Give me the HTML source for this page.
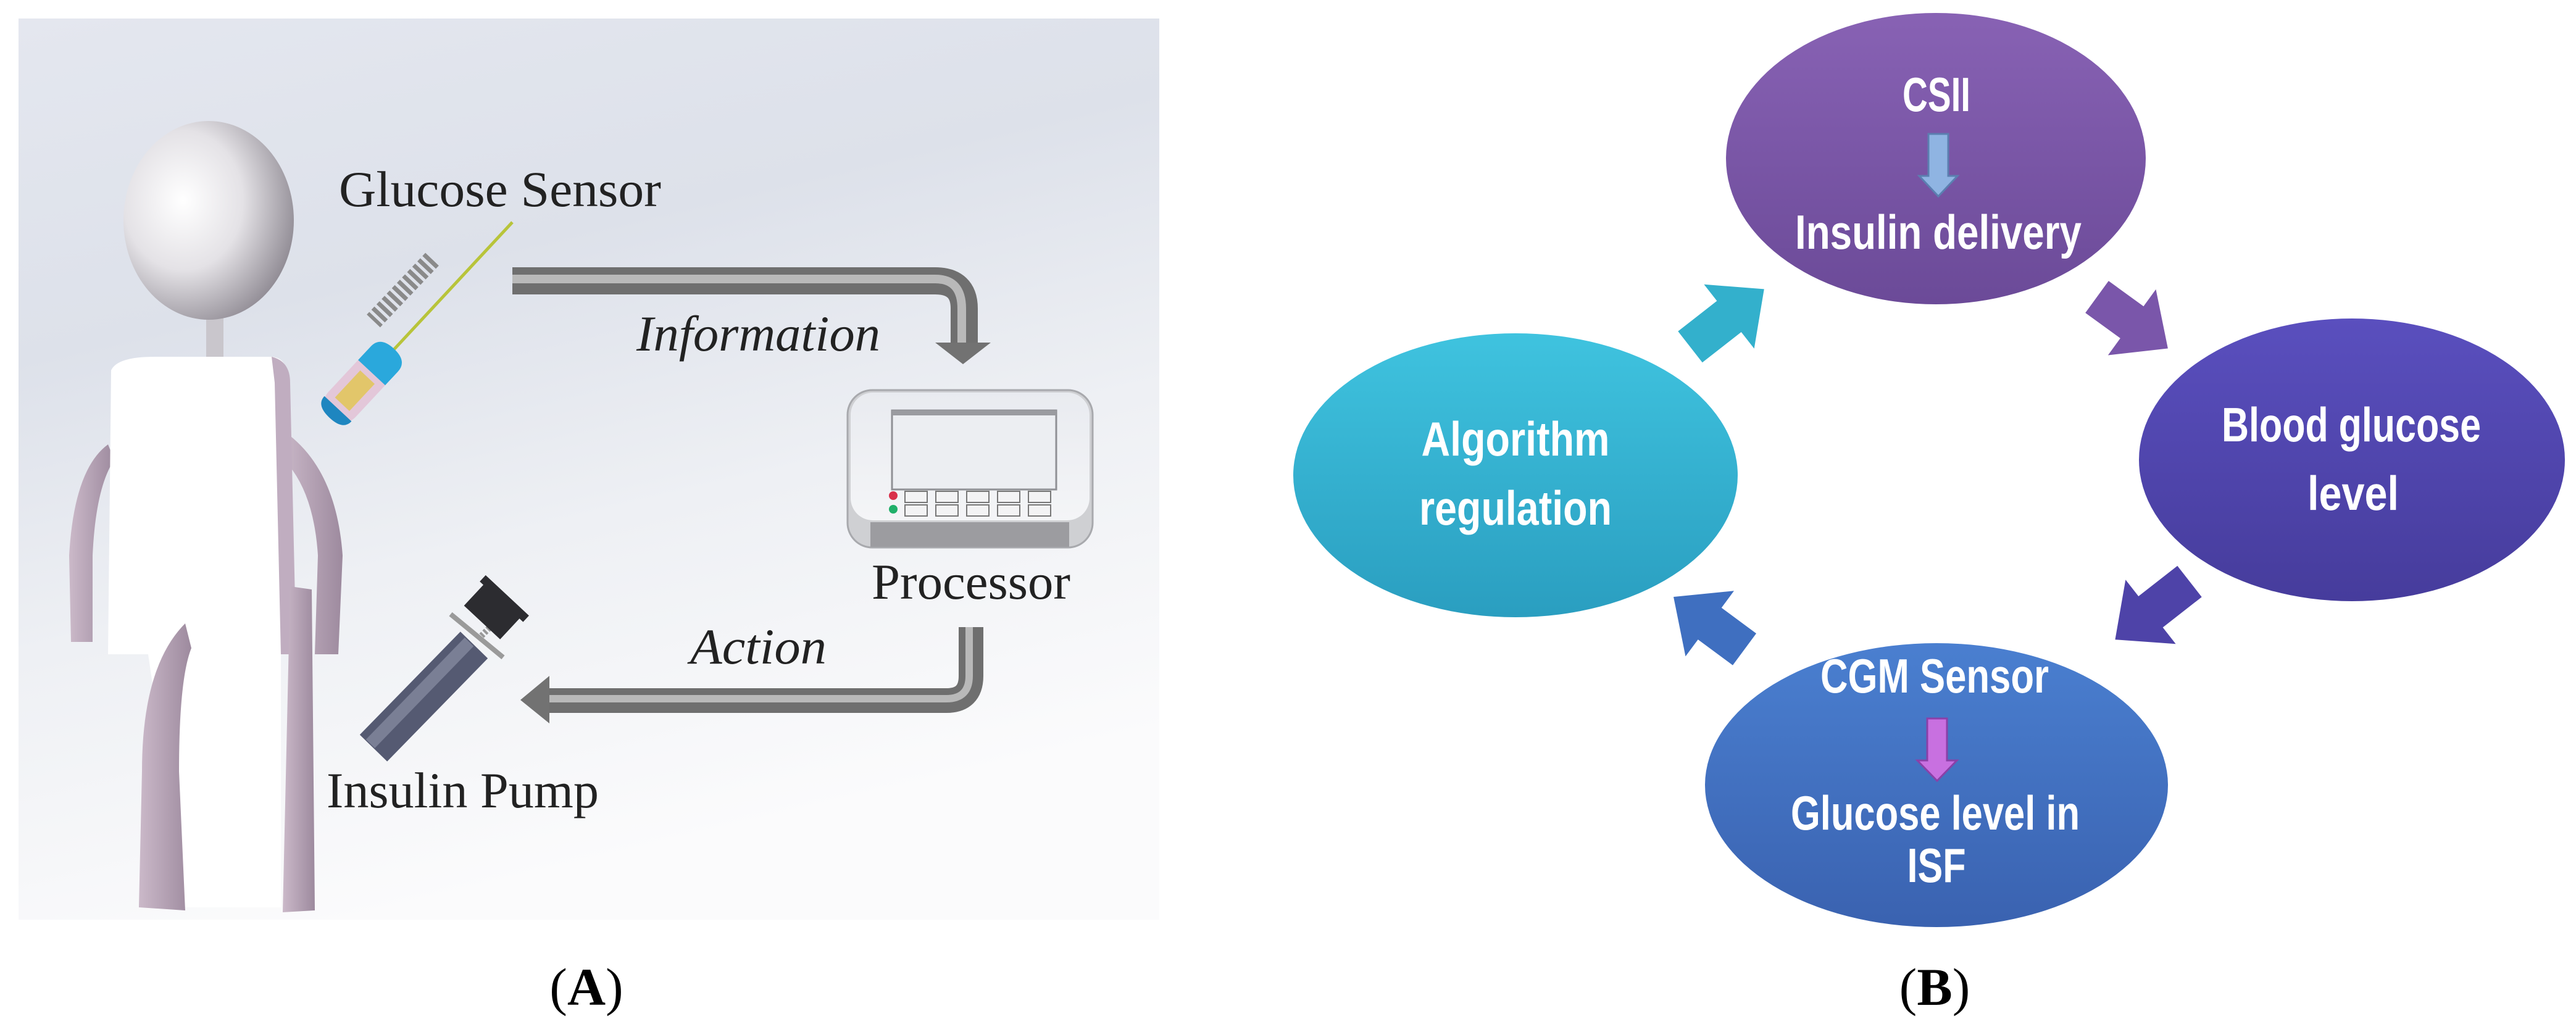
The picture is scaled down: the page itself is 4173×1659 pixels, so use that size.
<!DOCTYPE html>
<html><head><meta charset="utf-8"><style>
html,body{margin:0;padding:0;background:#fff;}
svg{display:block;}
</style></head><body>
<svg width="4173" height="1659" viewBox="0 0 4173 1659" xmlns="http://www.w3.org/2000/svg">
<defs>
<linearGradient id="bg" x1="0" y1="0" x2="0.3" y2="1">
<stop offset="0" stop-color="#e4e7ef"/><stop offset="0.35" stop-color="#dde1ea"/><stop offset="0.65" stop-color="#eef0f4"/><stop offset="1" stop-color="#fbfbfc"/>
</linearGradient>
<radialGradient id="head" cx="0.35" cy="0.4" r="0.7">
<stop offset="0" stop-color="#ffffff"/><stop offset="0.5" stop-color="#e4e2e6"/><stop offset="1" stop-color="#8d8891"/>
</radialGradient>
<linearGradient id="lav" x1="0" y1="0" x2="1" y2="0">
<stop offset="0" stop-color="#cbb9c9"/><stop offset="1" stop-color="#9d8a9e"/>
</linearGradient>
<linearGradient id="gC" x1="0" y1="0" x2="0" y2="1"><stop offset="0" stop-color="#3fc3df"/><stop offset="1" stop-color="#2a9ec0"/></linearGradient>
<linearGradient id="gP" x1="0" y1="0" x2="0" y2="1"><stop offset="0" stop-color="#8862b4"/><stop offset="1" stop-color="#6b4a98"/></linearGradient>
<linearGradient id="gI" x1="0" y1="0" x2="0" y2="1"><stop offset="0" stop-color="#5a4fbe"/><stop offset="1" stop-color="#463c9c"/></linearGradient>
<linearGradient id="gB" x1="0" y1="0" x2="0" y2="1"><stop offset="0" stop-color="#4a7fd0"/><stop offset="1" stop-color="#3a62b0"/></linearGradient>
<linearGradient id="dev" x1="0" y1="0" x2="0" y2="1"><stop offset="0" stop-color="#e9ebf0"/><stop offset="1" stop-color="#f4f5f7"/></linearGradient>
</defs>

<rect x="30" y="30" width="1848" height="1460" fill="url(#bg)"/>

<rect x="334" y="515" width="28" height="70" fill="#c9c6cc"/>
<ellipse cx="338" cy="357" rx="138" ry="161" fill="url(#head)"/>
<path d="M175 720 Q120 760 112 900 L115 1040 L150 1040 L150 900 Q155 790 185 745 Z" fill="url(#lav)"/>
<path d="M462 700 Q545 760 555 900 L548 1060 L510 1060 L515 900 Q508 790 455 740 Z" fill="url(#lav)"/>
<path d="M180 600 Q190 578 250 578 L440 578 Q465 580 465 610 L470 1060 L175 1060 Z" fill="#ffffff"/>
<path d="M440 578 Q470 585 470 620 L480 1060 L455 1060 L445 620 Z" fill="#c0adc0"/>
<path d="M240 1060 L455 1060 L455 1470 L300 1470 Z" fill="#ffffff"/>
<path d="M300 1010 Q230 1080 230 1250 L225 1470 L300 1475 L290 1250 Q290 1100 310 1050 Z" fill="url(#lav)"/>
<path d="M470 950 L505 955 L510 1475 L458 1478 Z" fill="url(#lav)"/>

<line x1="830" y1="360" x2="630" y2="575" stroke="#b8c43a" stroke-width="5"/>
<line x1="700" y1="420" x2="605" y2="520" stroke="#8a8a8a" stroke-width="30" stroke-dasharray="7 5"/>
<g transform="translate(585,622) rotate(-47)">
<rect x="-75" y="-30" width="150" height="60" rx="30" fill="#e3c7d9"/>
<rect x="-45" y="-16" width="60" height="32" fill="#e2c66a"/>
<path d="M25 -30 L55 -30 Q78 -30 78 0 Q78 30 55 30 L25 30 Z" fill="#2aa8dc"/>
<path d="M-75 0 Q-75 -30 -55 -30 L-55 30 Q-75 30 -75 0 Z" fill="#1e86c0"/>
</g>

<path d="M830 455 L1515 455 Q1562 455 1562 500 L1562 560" fill="none" stroke="#6f6f6f" stroke-width="44"/>
<path d="M830 452 L1515 452 Q1558 452 1558 500 L1558 558" fill="none" stroke="#b9b9b9" stroke-width="14"/>
<polygon points="1515,555 1605,555 1560,590" fill="#727272"/>

<rect x="1373" y="632" width="397" height="255" rx="40" fill="#cfd0d3" stroke="#a8a9ad" stroke-width="3"/>
<rect x="1378" y="636" width="387" height="207" rx="36" fill="url(#dev)"/>
<rect x="1410" y="846" width="322" height="40" fill="#9c9ca0"/>
<rect x="1445" y="665" width="266" height="128" fill="#eceef2" stroke="#8f9095" stroke-width="3"/>
<rect x="1445" y="665" width="266" height="8" fill="#9a9ba0"/>
<circle cx="1447" cy="803" r="7" fill="#d9304a"/>
<circle cx="1447" cy="825" r="7" fill="#20b06a"/>
<g fill="#f3f3f4" stroke="#777" stroke-width="2">
<rect x="1466" y="796" width="36" height="18"/><rect x="1516" y="796" width="36" height="18"/><rect x="1566" y="796" width="36" height="18"/><rect x="1616" y="796" width="36" height="18"/><rect x="1666" y="796" width="36" height="18"/>
<rect x="1466" y="818" width="36" height="18"/><rect x="1516" y="818" width="36" height="18"/><rect x="1566" y="818" width="36" height="18"/><rect x="1616" y="818" width="36" height="18"/><rect x="1666" y="818" width="36" height="18"/>
</g>

<path d="M1573 1016 L1573 1095 Q1573 1135 1533 1135 L885 1135" fill="none" stroke="#6f6f6f" stroke-width="40"/>
<path d="M1570 1016 L1570 1095 Q1570 1132 1533 1132 L885 1132" fill="none" stroke="#b9b9b9" stroke-width="12"/>
<polygon points="890,1095 890,1172 843,1134" fill="#727272"/>

<line x1="605" y1="1212" x2="768" y2="1045" stroke="#555a72" stroke-width="62"/>
<line x1="600" y1="1205" x2="760" y2="1040" stroke="#7a7f95" stroke-width="20"/>
<line x1="780" y1="1030" x2="810" y2="1000" stroke="#999" stroke-width="10" stroke-dasharray="4 3"/>
<line x1="730" y1="995" x2="815" y2="1065" stroke="#9a9a9a" stroke-width="8"/>
<g transform="translate(800,988) rotate(43)"><rect x="-40" y="-28" width="80" height="56" fill="#2c2c30"/><rect x="-48" y="-32" width="96" height="14" fill="#2c2c30"/></g>

<g font-family="Liberation Serif, serif" fill="#222">
<text x="549" y="334" font-size="82" textLength="522" lengthAdjust="spacingAndGlyphs">Glucose Sensor</text>
<text x="1031" y="568" font-size="82" font-style="italic" textLength="395" lengthAdjust="spacingAndGlyphs">Information</text>
<text x="1412" y="970" font-size="82" textLength="322" lengthAdjust="spacingAndGlyphs">Processor</text>
<text x="1118" y="1075" font-size="82" font-style="italic" textLength="221" lengthAdjust="spacingAndGlyphs">Action</text>
<text x="529" y="1308" font-size="82" textLength="441" lengthAdjust="spacingAndGlyphs">Insulin Pump</text>
<text x="950" y="1628" font-size="86" text-anchor="middle" fill="#000">(<tspan font-weight="bold">A</tspan>)</text>
<text x="3134" y="1628" font-size="86" text-anchor="middle" fill="#000">(<tspan font-weight="bold">B</tspan>)</text>
</g>

<ellipse cx="3136" cy="257" rx="340" ry="236" fill="url(#gP)"/>
<ellipse cx="3810" cy="745" rx="345" ry="229" fill="url(#gI)"/>
<ellipse cx="3137" cy="1272" rx="375" ry="230" fill="url(#gB)"/>
<ellipse cx="2455" cy="770" rx="360" ry="230" fill="url(#gC)"/>

<polygon points="3124,217 3156,217 3156,285 3171,285 3140,318 3109,285 3124,285" fill="#8fb4e2" stroke="#5b7fb0" stroke-width="3"/>
<polygon points="3122,1164 3154,1164 3154,1232 3170,1232 3138,1265 3106,1232 3122,1232" fill="#c870e0" stroke="#8a40a8" stroke-width="3"/>

<g>
<polygon transform="translate(2738,562) rotate(-38)" points="0,-32 80,-32 80,-66 152,0 80,66 80,32 0,32" fill="#33b0cc"/>
<polygon transform="translate(3397,481) rotate(36)" points="0,-32 70,-32 70,-66 142,0 70,66 70,32 0,32" fill="#7a56aa"/>
<polygon transform="translate(3547,942) rotate(142)" points="0,-32 80,-32 80,-66 153,0 80,66 80,32 0,32" fill="#4e43a8"/>
<polygon transform="translate(2826,1052) rotate(216.5)" points="0,-32 70,-32 70,-66 143,0 70,66 70,32 0,32" fill="#3f6fc0"/>
</g>

<g font-family="Liberation Sans Narrow, Liberation Sans, sans-serif" font-weight="bold" fill="#fff" text-anchor="middle" font-size="78">
<text x="3137" y="180" textLength="110" lengthAdjust="spacingAndGlyphs">CSII</text>
<text x="3140" y="403" textLength="464" lengthAdjust="spacingAndGlyphs">Insulin delivery</text>
<text x="3809" y="715" textLength="420" lengthAdjust="spacingAndGlyphs">Blood glucose</text>
<text x="3812" y="826" textLength="148" lengthAdjust="spacingAndGlyphs">level</text>
<text x="2455" y="738" textLength="305" lengthAdjust="spacingAndGlyphs">Algorithm</text>
<text x="2455" y="850" textLength="312" lengthAdjust="spacingAndGlyphs">regulation</text>
<text x="3134" y="1122" textLength="370" lengthAdjust="spacingAndGlyphs">CGM Sensor</text>
<text x="3135" y="1344" textLength="468" lengthAdjust="spacingAndGlyphs">Glucose level in</text>
<text x="3137" y="1429" textLength="95" lengthAdjust="spacingAndGlyphs">ISF</text>
</g>
</svg>
</body></html>
